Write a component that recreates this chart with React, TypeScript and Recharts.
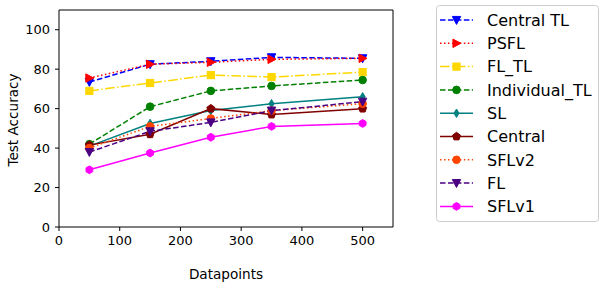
import React from 'react';
import { LineChart, Line, XAxis, YAxis, Legend, ReferenceLine } from 'recharts';

const datapoints = [50, 150, 250, 350, 500];
const centralTL = [73.5, 82.5, 84, 86, 85.5];
const psfl = [75.5, 82.5, 83.5, 85, 85.5];
const flTL = [69, 73, 77, 76, 78.5];
const individualTL = [42, 61, 69, 71.5, 74.5];
const sl = [41, 52.5, 59, 62.5, 66];
const central = [41.5, 47, 60, 57, 60];
const sflv2 = [40, 51, 55, 59, 62.5];
const fl = [38, 48.5, 53, 59, 63.5];
const sflv1 = [29, 37.5, 45.5, 51, 52.5];
const xTicks = [0, 100, 200, 300, 400, 500];
const yTicks = [0, 20, 40, 60, 80, 100];

const DASHED = '5.55 2.4';
const DOTTED = '1.5 2.475';
const DASHDOT = '9.6 2.4 1.5 2.4';

type Shape = 'vdown' | 'right' | 'square' | 'circle' | 'diamond' | 'pentagon' | 'hex';

const series: { key: string; name: string; values: number[]; color: string; dash?: string; shape: Shape }[] = [
  { key: 'centralTL', name: 'Central TL', values: centralTL, color: '#0000ff', dash: DASHED, shape: 'vdown' },
  { key: 'psfl', name: 'PSFL', values: psfl, color: '#ff0000', dash: DOTTED, shape: 'right' },
  { key: 'flTL', name: 'FL_TL', values: flTL, color: '#ffd700', dash: DASHDOT, shape: 'square' },
  { key: 'individualTL', name: 'Individual_TL', values: individualTL, color: '#008000', dash: DASHED, shape: 'circle' },
  { key: 'sl', name: 'SL', values: sl, color: '#008080', shape: 'diamond' },
  { key: 'central', name: 'Central', values: central, color: '#800000', shape: 'pentagon' },
  { key: 'sflv2', name: 'SFLv2', values: sflv2, color: '#ff4500', dash: DOTTED, shape: 'circle' },
  { key: 'fl', name: 'FL', values: fl, color: '#4b0082', dash: DASHED, shape: 'vdown' },
  { key: 'sflv1', name: 'SFLv1', values: sflv1, color: '#ff00ff', shape: 'hex' },
];

const data = datapoints.map((d, i) => {
  const row: Record<string, number> = { x: d };
  series.forEach((s) => {
    row[s.key] = s.values[i];
  });
  return row;
});

function Marker({ cx, cy, shape, color }: { cx: number; cy: number; shape: Shape; color: string }) {
  const r = 4.2;
  const pts = (arr: [number, number][]) => arr.map(([a, b]) => `${cx + a},${cy + b}`).join(' ');
  switch (shape) {
    case 'vdown':
      return <polygon points={pts([[-r, -r * 0.85], [r, -r * 0.85], [0, r * 1.05]])} fill={color} stroke={color} strokeWidth={1} />;
    case 'right':
      return <polygon points={pts([[-r * 0.85, -r], [-r * 0.85, r], [r * 1.05, 0]])} fill={color} stroke={color} strokeWidth={1} />;
    case 'square':
      return <rect x={cx - 3.6} y={cy - 3.6} width={7.2} height={7.2} fill={color} stroke={color} strokeWidth={1} />;
    case 'circle':
      return <circle cx={cx} cy={cy} r={3.8} fill={color} stroke={color} strokeWidth={1} />;
    case 'diamond':
      return <polygon points={pts([[0, -r], [r * 0.6, 0], [0, r], [-r * 0.6, 0]])} fill={color} stroke={color} strokeWidth={1} />;
    case 'pentagon': {
      const p: [number, number][] = [];
      for (let k = 0; k < 5; k++) {
        const a = -Math.PI / 2 + (k * 2 * Math.PI) / 5;
        p.push([Math.cos(a) * r, Math.sin(a) * r]);
      }
      return <polygon points={pts(p)} fill={color} stroke={color} strokeWidth={1} />;
    }
    case 'hex': {
      const p: [number, number][] = [];
      for (let k = 0; k < 6; k++) {
        const a = -Math.PI / 2 + (k * 2 * Math.PI) / 6;
        p.push([Math.cos(a) * 3.9, Math.sin(a) * 3.9]);
      }
      return <polygon points={pts(p)} fill={color} stroke={color} strokeWidth={1} />;
    }
  }
  return null;
}

const FONT = 'DejaVu Sans, sans-serif';

function LegendBox() {
  const rowH = 23.3;
  return (
    <svg width={163} height={217} style={{ display: 'block' }}>
      <rect x={0.5} y={0.5} width={162} height={216} rx={3} ry={3} fill="#ffffff" fillOpacity={0.8} stroke="#cccccc" strokeWidth={1} />
      {series.map((s, i) => {
        const y = 15 + i * rowH;
        return (
          <g key={s.key}>
            <line x1={4} x2={37} y1={y} y2={y} stroke={s.color} strokeWidth={1.5} strokeDasharray={s.dash} />
            <Marker cx={20.5} cy={y} shape={s.shape} color={s.color} />
            <text x={51} y={y} dy="0.36em" fontSize={16} fontFamily={FONT} fill="#000000">
              {s.name}
            </text>
          </g>
        );
      })}
    </svg>
  );
}

const YLabel = () => (
  <text x={13} y={120} transform="rotate(-90 13 120)" textAnchor="middle" dy="0.36em" fontSize={13.6} fontFamily={FONT} fill="#000000">
    Test Accuracy
  </text>
);

const XLabel = () => (
  <text x={226} y={274} textAnchor="middle" dy="0.36em" fontSize={13.6} fontFamily={FONT} fill="#000000">
    Datapoints
  </text>
);

export default function App() {
  return (
    <div style={{ position: 'absolute', left: 0, top: 0, width: 605, height: 288, background: '#ffffff' }}>
      <LineChart width={605} height={288} data={data} margin={{ top: 10, right: 212, bottom: 0, left: 9 }}>
        <XAxis
          dataKey="x"
          type="number"
          domain={[0, 550]}
          ticks={xTicks}
          height={61}
          tickSize={4}
          tickMargin={5}
          stroke="#000000"
          tick={{ fill: '#000000', fontSize: 13, fontFamily: FONT }}
          allowDataOverflow
          label={<XLabel />}
        />
        <YAxis
          type="number"
          domain={[0, 110]}
          ticks={yTicks}
          width={50}
          tickSize={4}
          tickMargin={5}
          stroke="#000000"
          tick={{ fill: '#000000', fontSize: 13, fontFamily: FONT }}
          allowDataOverflow
          label={<YLabel />}
        />
        <ReferenceLine y={110} stroke="#000000" strokeWidth={1} ifOverflow="extendDomain" />
        <ReferenceLine x={550} stroke="#000000" strokeWidth={1} ifOverflow="extendDomain" />
        {series.map((s) => (
          <Line
            key={s.key}
            dataKey={s.key}
            name={s.name}
            stroke={s.color}
            strokeWidth={1.5}
            strokeDasharray={s.dash}
            isAnimationActive={false}
            dot={(p: any) => <Marker key={`${s.key}-${p.index}`} cx={p.cx} cy={p.cy} shape={s.shape} color={s.color} />}
            activeDot={false}
          />
        ))}
        <Legend
          layout="vertical"
          align="center"
          verticalAlign="middle"
          wrapperStyle={{ position: 'absolute', left: 436, top: 5, width: 163, height: 217 }}
          content={() => <LegendBox />}
        />
      </LineChart>
    </div>
  );
}
